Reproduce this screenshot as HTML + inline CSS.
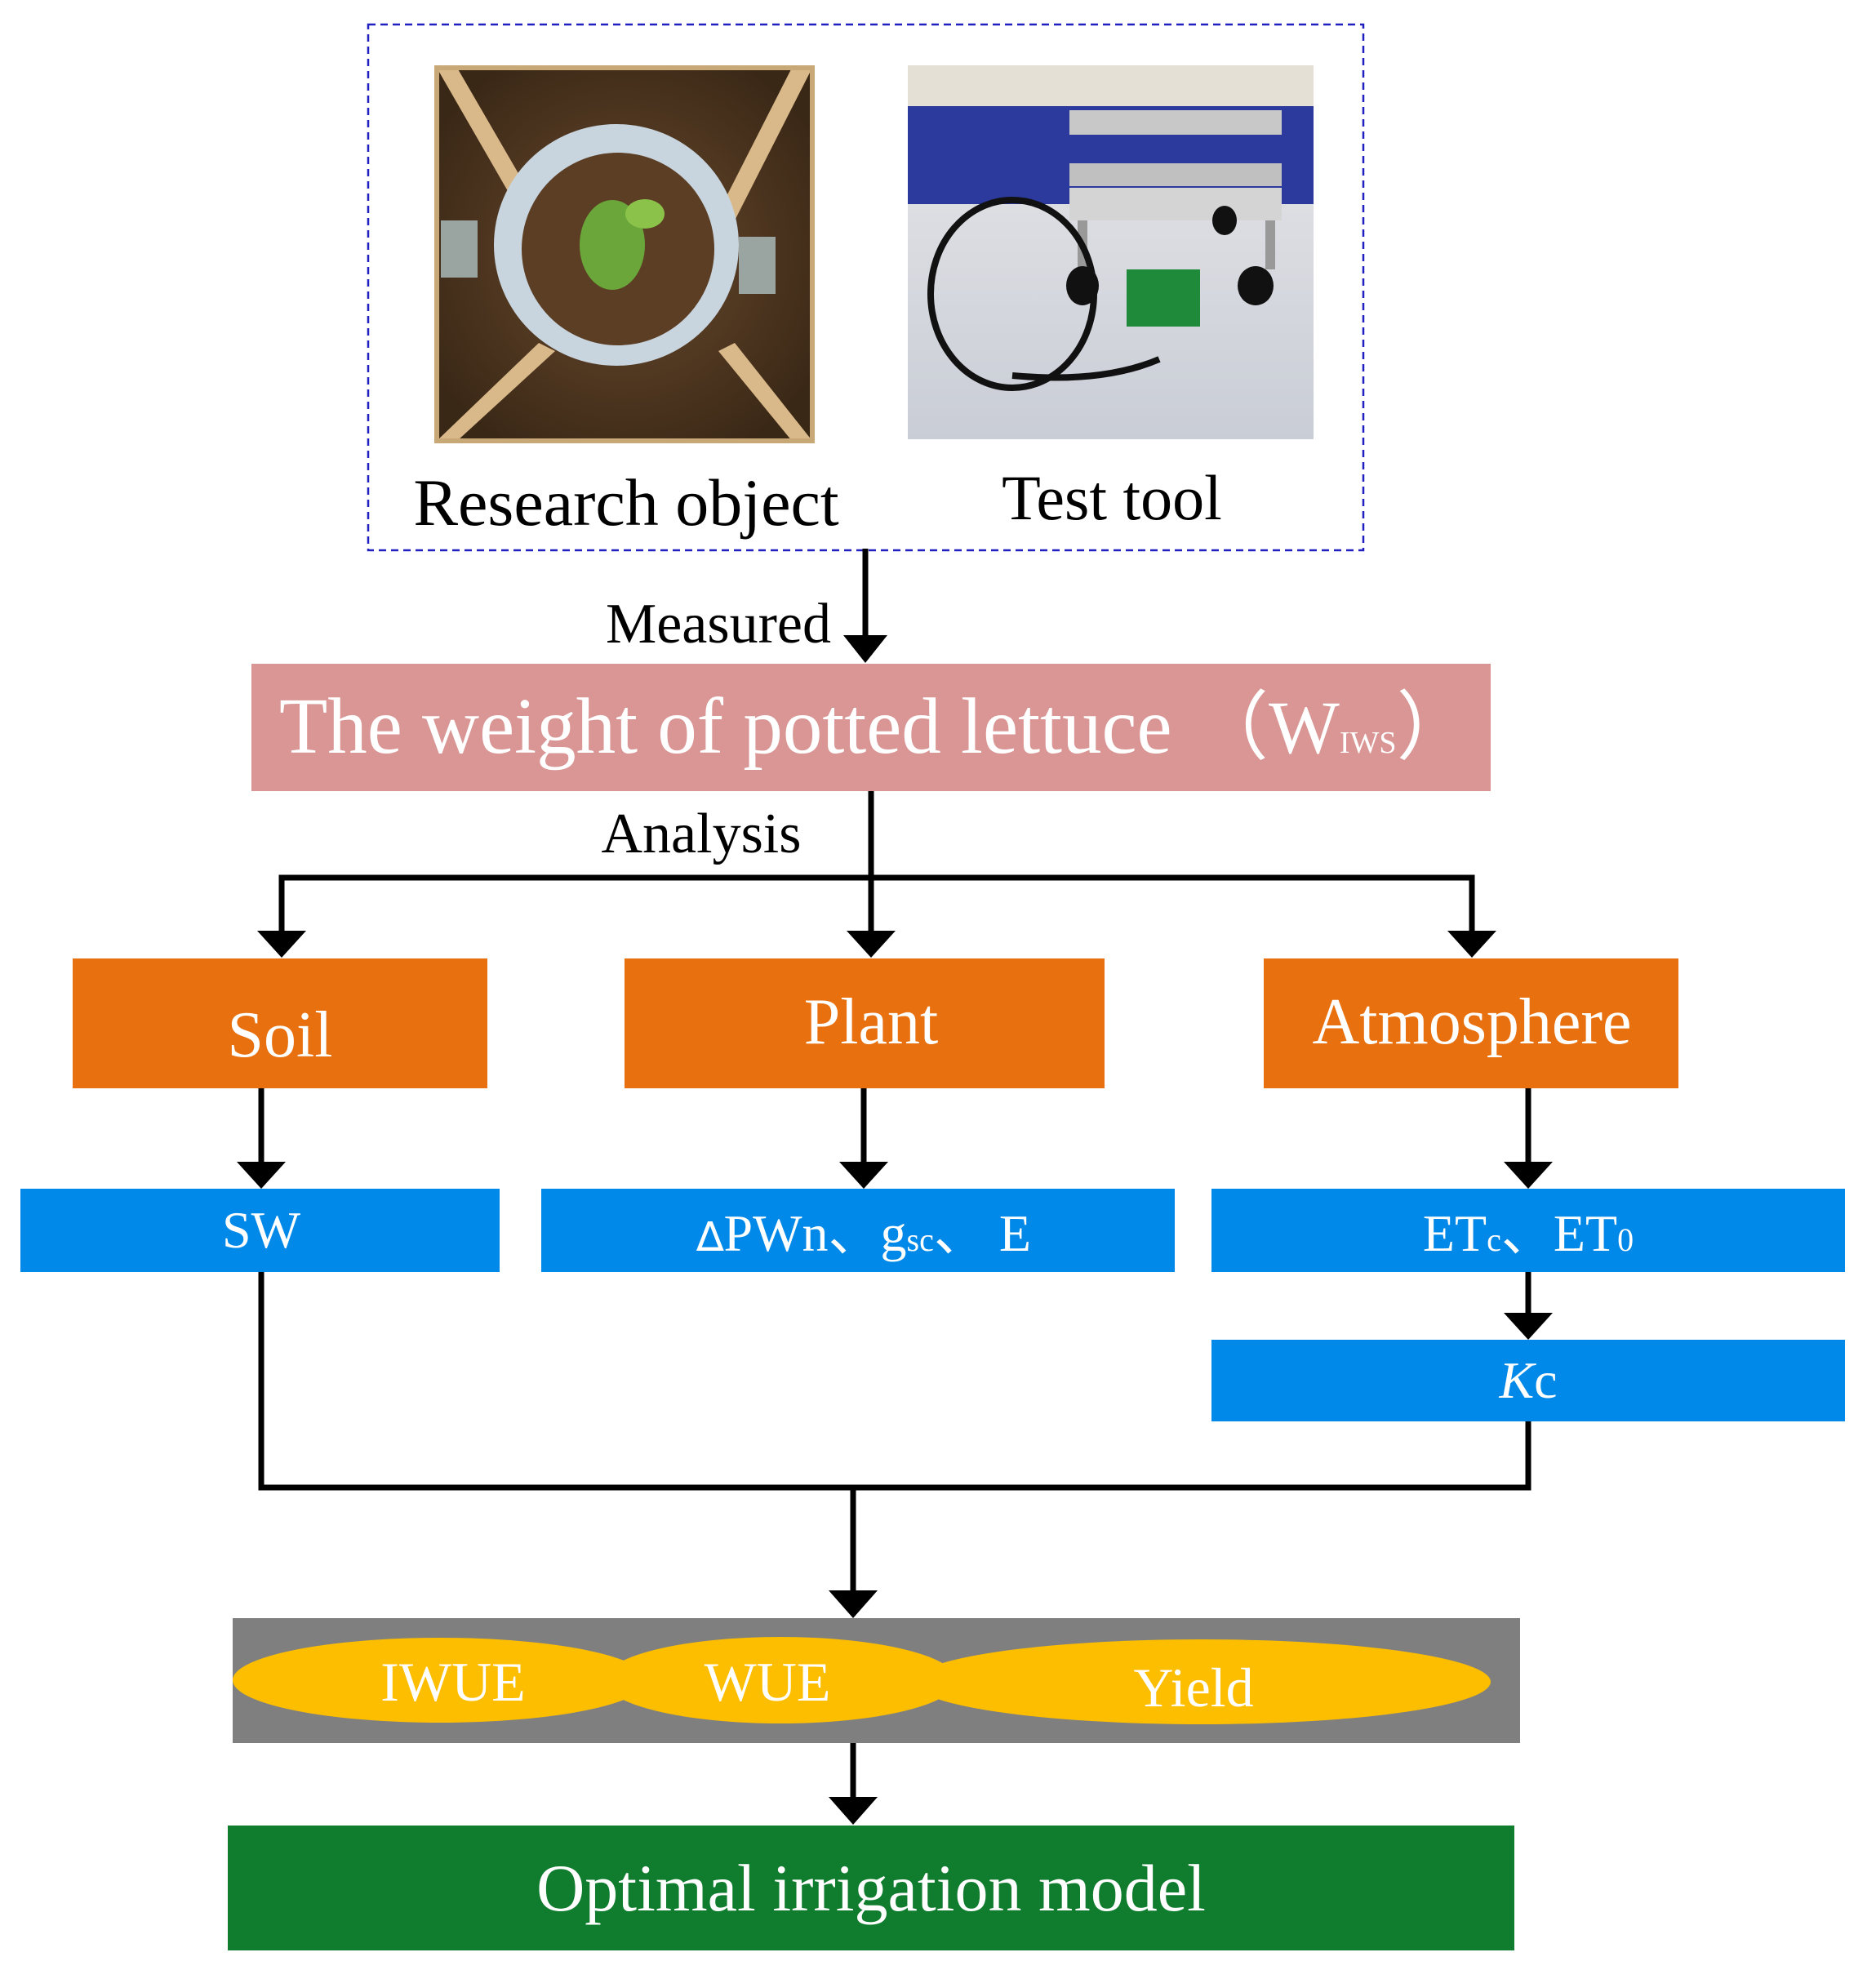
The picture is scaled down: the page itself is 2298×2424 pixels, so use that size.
<!DOCTYPE html>
<html><head><meta charset="utf-8"><style>
html,body{margin:0;padding:0;background:#fff}
svg{display:block}
text{font-family:"Liberation Serif",serif}
</style></head><body>
<svg width="2298" height="2424" viewBox="0 0 2298 2424" xmlns="http://www.w3.org/2000/svg">
<defs>
<radialGradient id="soil" cx="50%" cy="50%" r="60%"><stop offset="0" stop-color="#6b4a2e"/><stop offset="1" stop-color="#3a2816"/></radialGradient>
<linearGradient id="tbl" x1="0" y1="0" x2="0" y2="1"><stop offset="0" stop-color="#e8e8ea"/><stop offset="1" stop-color="#c9cdd6"/></linearGradient>
</defs>
<rect x="451" y="30" width="1219" height="644" fill="none" stroke="#2020c0" stroke-width="2.5" stroke-dasharray="9,6"/>
<rect x="535" y="83" width="460" height="457" fill="url(#soil)"/>
<polygon points="535,83 560,83 680,290 660,300" fill="#d9b98a"/>
<polygon points="995,83 970,83 880,260 900,270" fill="#d9b98a"/>
<polygon points="535,540 560,540 680,430 660,420" fill="#d9b98a"/>
<polygon points="995,540 970,540 880,430 900,420" fill="#d9b98a"/>
<rect x="535" y="83" width="460" height="457" fill="none" stroke="#c9a878" stroke-width="6"/>
<ellipse cx="755" cy="300" rx="150" ry="148" fill="#c8d4de"/>
<ellipse cx="757" cy="305" rx="118" ry="118" fill="#5b3e24"/>
<ellipse cx="750" cy="300" rx="40" ry="55" fill="#6aa63a"/>
<ellipse cx="790" cy="262" rx="24" ry="18" fill="#8bc34a"/>
<rect x="540" y="270" width="45" height="70" fill="#9aa4a0"/>
<rect x="905" y="290" width="45" height="70" fill="#9aa4a0"/>
<rect x="1112" y="80" width="497" height="458" fill="url(#tbl)"/>
<rect x="1112" y="80" width="497" height="50" fill="#e4e0d6"/>
<rect x="1112" y="130" width="497" height="120" fill="#2b3a9c"/>
<rect x="1310" y="135" width="260" height="30" fill="#c8c8c8"/>
<rect x="1310" y="200" width="260" height="28" fill="#c0c0c0"/>
<rect x="1310" y="230" width="260" height="40" fill="#d4d4d4"/>
<rect x="1320" y="270" width="12" height="60" fill="#999"/>
<rect x="1550" y="270" width="12" height="60" fill="#999"/>
<ellipse cx="1326" cy="350" rx="20" ry="24" fill="#111"/>
<ellipse cx="1538" cy="350" rx="22" ry="24" fill="#111"/>
<ellipse cx="1500" cy="270" rx="15" ry="18" fill="#111"/>
<ellipse cx="1240" cy="360" rx="100" ry="115" fill="none" stroke="#111" stroke-width="8"/>
<rect x="1380" y="330" width="90" height="70" fill="#1e8a3a"/>
<path d="M1240 460 Q1350 470 1420 440" stroke="#111" stroke-width="8" fill="none"/>
<text x="767" y="643" font-size="82" text-anchor="middle" fill="#000">Research object</text>
<text x="1362" y="636" font-size="78" text-anchor="middle" fill="#000">Test tool</text>
<line x1="1060" y1="672" x2="1060" y2="785" stroke="#000" stroke-width="7"/>
<polygon points="1033,778 1087,778 1060,812" fill="#000"/>
<text x="1018" y="787" font-size="70" text-anchor="end">Measured</text>
<rect x="308" y="813" width="1518" height="156" fill="#d99694"/>
<text x="342" y="922" font-size="97" fill="#fff">The weight of potted lettuce</text>
<text x="1462" y="922" font-size="92" fill="#fff">（W<tspan font-size="38">IWS</tspan>）</text>
<line x1="1067" y1="969" x2="1067" y2="1150" stroke="#000" stroke-width="7"/>
<text x="859" y="1044" font-size="70" text-anchor="middle">Analysis</text>
<polyline points="345,1150 345,1075 1803,1075 1803,1150" fill="none" stroke="#000" stroke-width="7"/>
<polygon points="315,1140 375,1140 345,1173" fill="#000"/>
<polygon points="1037,1140 1097,1140 1067,1173" fill="#000"/>
<polygon points="1773,1140 1833,1140 1803,1173" fill="#000"/>
<rect x="89" y="1174" width="508" height="159" fill="#e8700f"/>
<rect x="765" y="1174" width="588" height="159" fill="#e8700f"/>
<rect x="1548" y="1174" width="508" height="159" fill="#e8700f"/>
<text x="343" y="1294" font-size="80" fill="#fff" text-anchor="middle">Soil</text>
<text x="1067" y="1278" font-size="80" fill="#fff" text-anchor="middle">Plant</text>
<text x="1803" y="1278" font-size="80" fill="#fff" text-anchor="middle">Atmosphere</text>
<g stroke="#000" stroke-width="7">
<line x1="320" y1="1333" x2="320" y2="1430"/>
<line x1="1058" y1="1333" x2="1058" y2="1430"/>
<line x1="1872" y1="1333" x2="1872" y2="1430"/>
<line x1="1872" y1="1558" x2="1872" y2="1615"/>
</g>
<polygon points="290,1423 350,1423 320,1456" fill="#000"/>
<polygon points="1028,1423 1088,1423 1058,1456" fill="#000"/>
<polygon points="1842,1423 1902,1423 1872,1456" fill="#000"/>
<polygon points="1842,1608 1902,1608 1872,1641" fill="#000"/>
<rect x="25" y="1456" width="587" height="102" fill="#0089e8"/>
<rect x="663" y="1456" width="776" height="102" fill="#0089e8"/>
<rect x="1484" y="1456" width="776" height="102" fill="#0089e8"/>
<rect x="1484" y="1641" width="776" height="100" fill="#0089e8"/>
<text x="320" y="1528" font-size="64" fill="#fff" text-anchor="middle">SW</text>
<text x="1058" y="1532" font-size="64" fill="#fff" text-anchor="middle"><tspan font-size="50" font-family="DejaVu Sans">∆</tspan>PWn、g<tspan font-size="40">sc</tspan>、 E</text>
<text x="1872" y="1532" font-size="64" fill="#fff" text-anchor="middle">ET<tspan font-size="40">c</tspan>、ET<tspan font-size="40">0</tspan></text>
<text x="1872" y="1712" font-size="64" fill="#fff" text-anchor="middle"><tspan font-style="italic">K</tspan>c</text>
<polyline points="320,1558 320,1822 1872,1822 1872,1741" fill="none" stroke="#000" stroke-width="7"/>
<line x1="1045" y1="1822" x2="1045" y2="1955" stroke="#000" stroke-width="7"/>
<polygon points="1015,1948 1075,1948 1045,1982" fill="#000"/>
<rect x="285" y="1982" width="1577" height="153" fill="#7f7f7f"/>
<ellipse cx="1472" cy="2060" rx="354" ry="52" fill="#fdbe00"/>
<ellipse cx="956" cy="2058" rx="216" ry="53" fill="#fdbe00"/>
<ellipse cx="539" cy="2058" rx="254" ry="52" fill="#fdbe00"/>
<text x="555" y="2083" font-size="68" fill="#fff" text-anchor="middle">IWUE</text>
<text x="940" y="2083" font-size="68" fill="#fff" text-anchor="middle">WUE</text>
<text x="1462" y="2090" font-size="68" fill="#fff" text-anchor="middle">Yield</text>
<line x1="1045" y1="2135" x2="1045" y2="2208" stroke="#000" stroke-width="7"/>
<polygon points="1015,2201 1075,2201 1045,2235" fill="#000"/>
<rect x="279" y="2236" width="1576" height="153" fill="#107c2e"/>
<text x="1067" y="2340" font-size="82" fill="#fff" text-anchor="middle">Optimal irrigation model</text>
</svg>
</body></html>
